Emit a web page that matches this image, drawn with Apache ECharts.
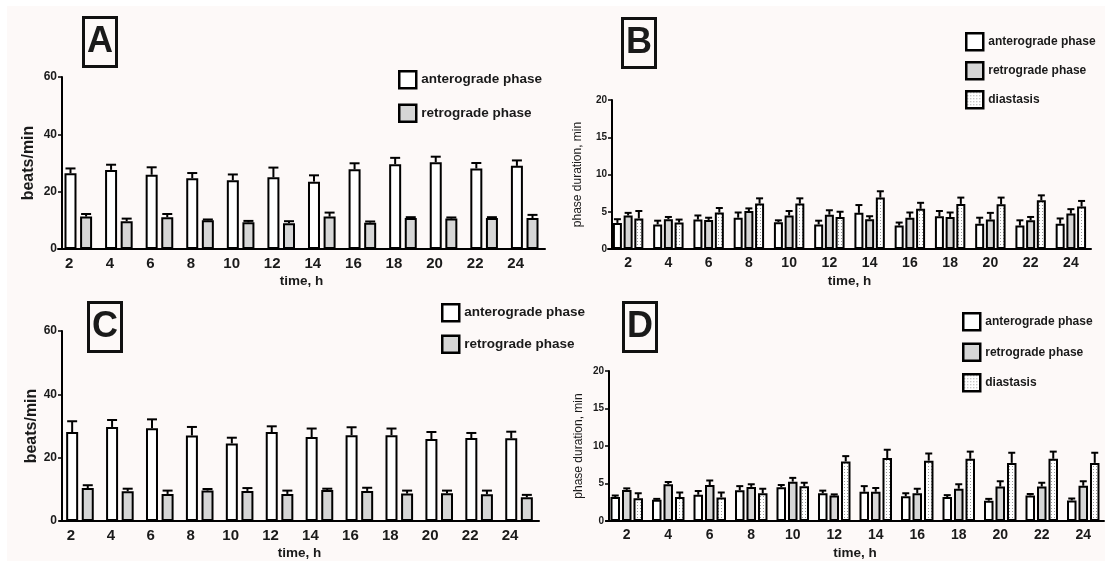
<!DOCTYPE html>
<html lang="en">
<head>
  <meta charset="utf-8">
  <title>Heart rate and phase duration</title>
  <script src="https://fastly.jsdelivr.net/npm/echarts@6/dist/echarts.min.js"></script>
  <style>
    * { margin: 0; padding: 0; }
    body { background: #fff; }
    #chart {
      width: 1105px;
      height: 561px;
      background: linear-gradient(#fdf9f8, #fdf9f8) 7px 6px / 1098px 555px no-repeat, #fff;
    }
  </style>
</head>
<body>
  <div id="chart"></div>
  <script>
    var hours = ['2', '4', '6', '8', '10', '12', '14', '16', '18', '20', '22', '24'];

    // panel A: beats/min, mean and SEM
    var aAnte = [26.4, 27.6, 25.9, 24.7, 24.0, 25.0, 23.5, 27.8, 29.6, 30.3, 28.1, 29.0];
    var aAnteErr = [1.7, 1.8, 2.6, 1.8, 2.0, 3.4, 2.2, 2.1, 2.2, 1.9, 1.9, 1.9];
    var aRetro = [11.3, 9.7, 11.1, 10.0, 9.3, 9.0, 11.3, 9.2, 10.8, 10.6, 10.8, 10.8];
    var aRetroErr = [0.9, 0.9, 1.1, 0.3, 0.5, 0.7, 1.4, 0.4, 0.3, 0.4, 0.3, 1.1];

    // panel B: phase duration, min
    var bAnte = [3.5, 3.3, 3.95, 4.2, 3.6, 3.3, 4.85, 3.15, 4.4, 3.4, 3.15, 3.4];
    var bAnteErr = [0.5, 0.5, 0.55, 0.7, 0.25, 0.5, 1.05, 0.4, 0.7, 0.8, 0.7, 0.7];
    var bRetro = [4.5, 4.0, 3.9, 5.1, 4.5, 4.6, 4.0, 4.2, 4.3, 3.95, 3.85, 4.75];
    var bRetroErr = [0.35, 0.3, 0.3, 0.35, 0.6, 0.6, 0.4, 0.7, 0.6, 0.9, 0.45, 0.6];
    var bDiast = [4.1, 3.55, 4.9, 6.1, 6.1, 4.3, 6.9, 5.4, 6.05, 6.0, 6.55, 5.7];
    var bDiastErr = [1.0, 0.4, 0.6, 0.7, 0.7, 0.7, 0.85, 0.8, 0.85, 0.9, 0.65, 0.75];

    // panel C: beats/min
    var cAnte = [28.1, 29.7, 29.3, 27.0, 24.5, 28.1, 26.5, 27.1, 27.1, 25.9, 26.2, 26.1];
    var cAnteErr = [3.4, 2.2, 2.8, 2.7, 1.8, 1.8, 2.7, 2.5, 2.1, 2.2, 1.6, 2.1];
    var cRetro = [10.4, 9.4, 8.55, 9.6, 9.5, 8.55, 9.8, 9.5, 8.65, 8.75, 8.45, 7.5];
    var cRetroErr = [0.9, 0.8, 1.05, 0.5, 0.9, 1.05, 0.4, 1.0, 0.95, 0.85, 1.15, 0.75];

    // panel D: phase duration, min
    var dAnte = [3.2, 2.85, 3.5, 4.1, 4.5, 3.7, 3.9, 3.3, 3.2, 2.7, 3.4, 2.75];
    var dAnteErr = [0.2, 0.1, 0.5, 0.55, 0.3, 0.35, 0.75, 0.4, 0.25, 0.25, 0.2, 0.25];
    var dRetro = [4.15, 4.9, 4.8, 4.55, 5.25, 3.4, 3.9, 3.7, 4.3, 4.6, 4.6, 4.7];
    var dRetroErr = [0.2, 0.3, 0.6, 0.35, 0.5, 0.15, 0.5, 0.6, 0.6, 0.7, 0.5, 0.6];
    var dDiast = [3.05, 3.2, 3.15, 3.7, 4.65, 7.95, 8.4, 8.05, 8.3, 7.75, 8.3, 7.75];
    var dDiastErr = [0.65, 0.6, 0.65, 0.6, 0.45, 0.7, 1.1, 0.95, 0.95, 1.35, 0.95, 1.35];

    var FONT = '"Liberation Sans", Arial, sans-serif';
    var INK = '#1a1a1a';

    // small dotted tile for the diastasis fill
    var tile = document.createElement('canvas');
    tile.width = 3;
    tile.height = 3;
    var tctx = tile.getContext('2d');
    tctx.fillStyle = '#ffffff';
    tctx.fillRect(0, 0, 3, 3);
    tctx.fillStyle = '#9a9a9a';
    tctx.fillRect(1, 1, 1, 1);

    var styles = {
      'anterograde phase': { color: '#ffffff', borderColor: '#000', borderWidth: 2 },
      'retrograde phase': { color: '#d6d6d6', borderColor: '#000', borderWidth: 2 },
      'diastasis': { color: { image: tile, repeat: 'repeat' }, borderColor: '#000', borderWidth: 2 }
    };

    var chart = echarts.init(document.getElementById('chart'), null, { renderer: 'canvas' });

    var grids = [], xAxes = [], yAxes = [], series = [];

    // one panel: grid, axes, bars, error bars
    function panel(idx, cfg) {
      grids.push({ left: cfg.left, top: cfg.top, width: cfg.width, height: cfg.height });
      xAxes.push({
        gridIndex: idx, type: 'category', data: hours,
        axisLine: { lineStyle: { color: '#000', width: 2 } },
        axisTick: { show: false },
        axisLabel: {
          fontFamily: FONT, fontSize: cfg.xFont, fontWeight: 'bold', color: INK,
          margin: 7, padding: [0, cfg.labelShift, 0, 0]
        },
        name: 'time, h', nameLocation: 'middle', nameGap: 25,
        nameTextStyle: { fontFamily: FONT, fontSize: 13.5, fontWeight: 'bold', color: INK }
      });
      yAxes.push({
        gridIndex: idx, type: 'value', min: 0, max: cfg.max, interval: cfg.interval,
        offset: cfg.yOffset,
        axisLine: { show: true, lineStyle: { color: '#000', width: 2 } },
        axisTick: { show: true, length: 4, lineStyle: { color: '#000', width: 1.5 } },
        splitLine: { show: false },
        axisLabel: { fontFamily: FONT, fontSize: cfg.yFont, fontWeight: 'bold', color: INK, margin: 5 },
        name: cfg.yName, nameLocation: 'middle', nameGap: cfg.nameGap,
        nameTextStyle: {
          fontFamily: FONT, fontSize: cfg.yNameFont, fontWeight: cfg.yNameWeight, color: INK
        }
      });
      var n = cfg.groups.length;
      var step = cfg.barWidth * (1 + cfg.barGap / 100);
      cfg.groups.forEach(function (g, k) {
        series.push({
          type: 'bar', name: g.name, xAxisIndex: idx, yAxisIndex: idx,
          data: g.mean, barWidth: cfg.barWidth, barGap: cfg.barGap + '%',
          itemStyle: styles[g.name], z: 2, silent: true
        });
        var off = (k - (n - 1) / 2) * step;
        series.push({
          type: 'custom', xAxisIndex: idx, yAxisIndex: idx, z: 3, silent: true,
          encode: { x: 0, y: [1, 2] },
          data: g.mean.map(function (m, i) { return [i, m, m + g.err[i]]; }),
          renderItem: function (params, api) {
            var p0 = api.coord([api.value(0), api.value(1)]);
            var p1 = api.coord([api.value(0), api.value(2)]);
            var x = p0[0] + off;
            var half = cfg.cap / 2;
            return {
              type: 'group',
              children: [
                { type: 'line', shape: { x1: x, y1: p0[1], x2: x, y2: p1[1] },
                  style: { stroke: '#000', lineWidth: 2 } },
                { type: 'line', shape: { x1: x - half, y1: p1[1], x2: x + half, y2: p1[1] },
                  style: { stroke: '#000', lineWidth: 2 } }
              ]
            };
          }
        });
      });
    }

    panel(0, {
      left: 58, top: 77, width: 487, height: 172, max: 60, interval: 20, yOffset: -4,
      xFont: 15, yFont: 12, labelShift: 18, yName: 'beats/min', nameGap: 25,
      yNameFont: 16, yNameWeight: 'bold', barWidth: 12, barGap: 30, cap: 10,
      groups: [
        { name: 'anterograde phase', mean: aAnte, err: aAnteErr },
        { name: 'retrograde phase', mean: aRetro, err: aRetroErr }
      ]
    });
    panel(1, {
      left: 608, top: 100, width: 483, height: 149, max: 20, interval: 5, yOffset: -4,
      xFont: 14, yFont: 10, labelShift: 0, yName: 'phase duration, min', nameGap: 28,
      yNameFont: 12, yNameWeight: 'normal', barWidth: 9, barGap: 19, cap: 7,
      groups: [
        { name: 'anterograde phase', mean: bAnte, err: bAnteErr },
        { name: 'retrograde phase', mean: bRetro, err: bRetroErr },
        { name: 'diastasis', mean: bDiast, err: bDiastErr }
      ]
    });
    panel(2, {
      left: 60, top: 331, width: 479, height: 191, max: 60, interval: 20, yOffset: -2,
      xFont: 15, yFont: 12, labelShift: 18, yName: 'beats/min', nameGap: 19,
      yNameFont: 16, yNameWeight: 'bold', barWidth: 12, barGap: 30, cap: 10,
      groups: [
        { name: 'anterograde phase', mean: cAnte, err: cAnteErr },
        { name: 'retrograde phase', mean: cRetro, err: cRetroErr }
      ]
    });
    panel(3, {
      left: 606, top: 371, width: 498, height: 152, max: 20, interval: 5, yOffset: -3,
      xFont: 14, yFont: 10, labelShift: 0, yName: 'phase duration, min', nameGap: 24,
      yNameFont: 12, yNameWeight: 'normal', barWidth: 9.5, barGap: 21, cap: 7,
      groups: [
        { name: 'anterograde phase', mean: dAnte, err: dAnteErr },
        { name: 'retrograde phase', mean: dRetro, err: dRetroErr },
        { name: 'diastasis', mean: dDiast, err: dDiastErr }
      ]
    });

    function legend(names, left, top, gap, size) {
      return {
        data: names, orient: 'vertical', left: left, top: top, icon: 'rect',
        itemWidth: 17, itemHeight: 17, itemGap: gap, selectedMode: false,
        itemStyle: { borderWidth: 2.5 },
        textStyle: { fontFamily: FONT, fontSize: size, fontWeight: 'bold', color: INK }
      };
    }

    function letter(txt, left, top) {
      return {
        text: txt, left: left, top: top, padding: [6, 4, 6, 4],
        borderColor: '#111', borderWidth: 3,
        textStyle: { fontFamily: FONT, fontSize: 36, fontWeight: 'bold', color: INK, lineHeight: 38 }
      };
    }

    var option = {
      animation: false,
      title: [
        letter('A', 83, 17),
        letter('B', 622, 18),
        letter('C', 88, 302),
        letter('D', 623, 302)
      ],
      legend: [
        legend(['anterograde phase', 'retrograde phase'], 393, 65, 14, 13.5),
        legend(['anterograde phase', 'retrograde phase', 'diastasis'], 960, 27, 9.5, 12),
        legend(['anterograde phase', 'retrograde phase'], 436, 298, 12, 13.5),
        legend(['anterograde phase', 'retrograde phase', 'diastasis'], 957, 307, 11, 12)
      ],
      grid: grids,
      xAxis: xAxes,
      yAxis: yAxes,
      series: series
    };

    chart.setOption(option);
    window.addEventListener('resize', chart.resize);
  </script>
</body>
</html>
